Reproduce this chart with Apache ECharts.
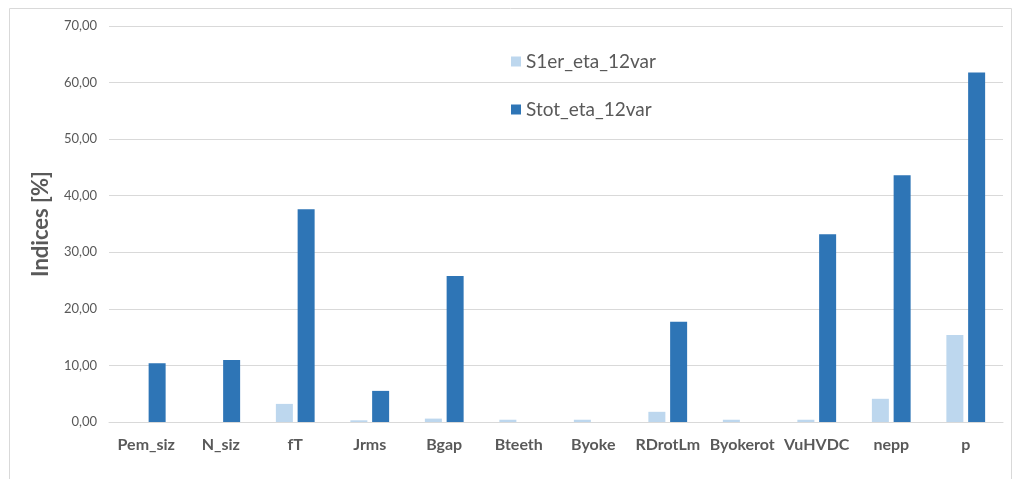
<!DOCTYPE html>
<html>
<head>
<meta charset="utf-8">
<script src="https://cdn.jsdelivr.net/npm/echarts@6/dist/echarts.min.js"></script>
<style>
  html, body { margin: 0; padding: 0; background: #fff; }
  #chart { width: 1013px; height: 479px; }
</style>
</head>
<body>
<div id="chart"></div>
<script>
  var categories = ['Pem_siz', 'N_siz', 'fT', 'Jrms', 'Bgap', 'Bteeth', 'Byoke', 'RDrotLm', 'Byokerot', 'VuHVDC', 'nepp', 'p']
  var s1erValues = [0, 0, 3.2, 0.3, 0.6, 0.4, 0.4, 1.8, 0.4, 0.4, 4.1, 15.4]
  var stotValues = [10.4, 10.95, 37.6, 5.5, 25.8, 0, 0, 17.7, 0, 33.2, 43.6, 61.8]
  var seriesNames = ['S1er_eta_12var', 'Stot_eta_12var']

  var chart = echarts.init(document.getElementById('chart'))
  var option = {
    animation: false,
    textStyle: { fontFamily: 'Lato, sans-serif' },
    graphic: [{
      type: 'rect',
      left: 7, top: 6,
      shape: { width: 1002, height: 471 },
      style: { fill: 'none', stroke: '#d9d9d9', lineWidth: 1 },
      silent: true
    }],
    legend: {
      orient: 'vertical',
      left: 506,
      top: 47,
      itemGap: 29,
      itemWidth: 10,
      itemHeight: 10,
      icon: 'rect',
      textStyle: { color: '#595959', fontSize: 19 },
      data: seriesNames
    },
    grid: {
      left: 109,
      right: 10,
      top: 26,
      bottom: 57
    },
    xAxis: {
      type: 'category',
      data: categories,
      axisTick: { show: false },
      axisLine: { lineStyle: { color: '#d9d9d9' } },
      axisLabel: {
        interval: 0,
        margin: 15,
        color: '#595959',
        fontSize: 16,
        fontWeight: 'bold'
      }
    },
    yAxis: {
      type: 'value',
      min: 0,
      max: 70,
      interval: 10,
      name: 'Indices [%]',
      nameLocation: 'middle',
      nameGap: 57,
      nameTextStyle: { color: '#595959', fontSize: 22, fontWeight: 'bold' },
      axisLabel: {
        color: '#595959',
        fontSize: 13,
        margin: 12,
        formatter: function (v) { return v.toFixed(2).replace('.', ',') }
      },
      splitLine: { lineStyle: { color: '#d9d9d9' } }
    },
    series: [
      {
        name: seriesNames[0],
        type: 'bar',
        barWidth: 17,
        barGap: '28%',
        itemStyle: { color: '#bdd7ee' },
        data: s1erValues
      },
      {
        name: seriesNames[1],
        type: 'bar',
        barWidth: 17,
        barGap: '28%',
        itemStyle: { color: '#2e75b6' },
        data: stotValues
      }
    ]
  }
  chart.setOption(option)
</script>
</body>
</html>
